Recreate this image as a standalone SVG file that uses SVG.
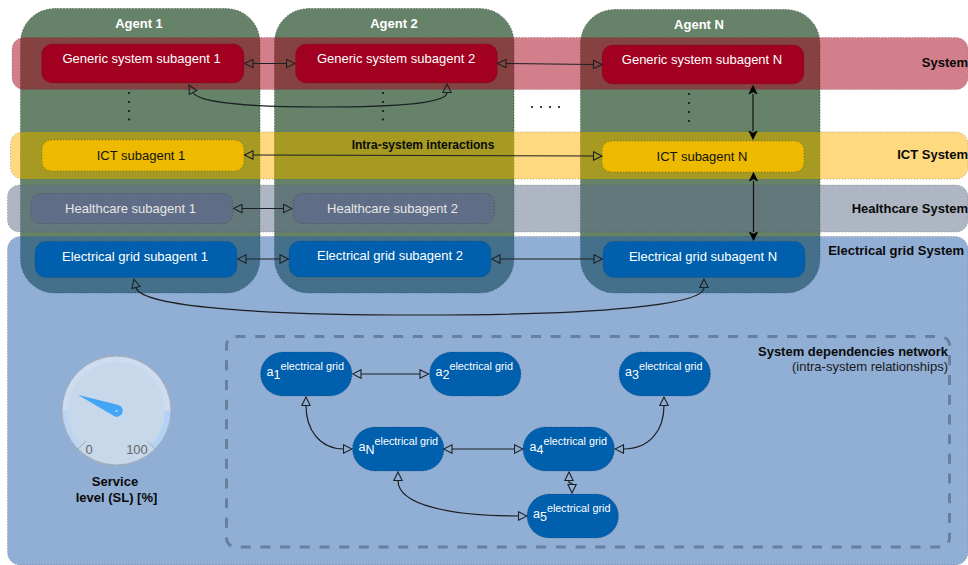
<svg xmlns="http://www.w3.org/2000/svg" width="968" height="565" viewBox="0 0 968 565">
<style>
text{font-family:"Liberation Sans",Arial,sans-serif}
.agent{fill:#66836a;stroke:#2b3b2e;stroke-width:.8;stroke-dasharray:1 2}
.band{stroke:#444;stroke-opacity:.55;stroke-width:.8;stroke-dasharray:1 2;fill-opacity:.5}
.sub{stroke:#222;stroke-opacity:.5;stroke-width:.8;stroke-dasharray:1 2}
.gen{fill:#a20020}.ict{fill:#edba00}.hc{fill:#5f6e86}.el{fill:#0060ad}
.st{font-size:13px;fill:#fff;text-anchor:middle}
.hct{font-size:13px;fill:#e6e6e6;text-anchor:middle}
.ag{font-size:13px;font-weight:bold;fill:#fff;text-anchor:middle}
.sy{font-size:13px;font-weight:bold;fill:#0a0a0a;text-anchor:end}
.an{fill:#fff;font-size:12.500px}.an .s{font-size:12.500px}.an .e{font-size:10.800px}
.c{fill:none;stroke:#1c2024;stroke-width:1.200;marker-start:url(#o);marker-end:url(#o)}
.k{fill:none;stroke:#111;stroke-width:1.200;marker-start:url(#f);marker-end:url(#f)}
.dot{fill:#111}
</style>
<defs>
<marker id="o" viewBox="-1 -5 10.500 10" refX="0" refY="0" markerWidth="10.500" markerHeight="10" markerUnits="userSpaceOnUse" orient="auto-start-reverse"><path d="M0 -4.200L8.500 0L0 4.200Z" fill="none" stroke="#1c2024" stroke-width="1.100"/></marker>
<marker id="f" viewBox="-1 -5 10.500 10" refX="0" refY="0" markerWidth="10.500" markerHeight="10" markerUnits="userSpaceOnUse" orient="auto-start-reverse"><path d="M0 -4.200L8.500 0L0 4.200L2 0Z" fill="#000" stroke="#000" stroke-width=".6"/></marker>
</defs>
<g id="agents">
<rect id="agent-1" class="agent" x="20.500" y="8.500" width="239.500" height="284.500" rx="34"/>
<rect id="agent-2" class="agent" x="274.500" y="8.500" width="239.500" height="284.500" rx="34"/>
<rect id="agent-n" class="agent" x="580.500" y="9.500" width="239.500" height="283.500" rx="34"/>
</g>
<g id="bands">
<rect id="band-system" class="band" x="12" y="37.500" width="956" height="52" rx="12" fill="#a50018"/>
<rect id="band-ict" class="band" x="10.500" y="132" width="957.500" height="47" rx="12" fill="#ffb300"/>
<rect x="20.500" y="132" width="239.500" height="47" fill="#a69a22"/>
<rect x="274.500" y="132" width="239.500" height="47" fill="#a69a22"/>
<rect x="580.500" y="132" width="239.500" height="47" fill="#a69a22"/>
<rect id="band-health" class="band" x="7.500" y="185" width="960.500" height="47" rx="12" fill="#5d6d89"/>
<rect id="band-electrical" class="band" x="7.500" y="236.500" width="960.500" height="328.500" rx="13" fill="#235dab"/>
</g>
<g id="agent-labels">
<text class="ag" x="139" y="28">Agent 1</text>
<text class="ag" x="394" y="28">Agent 2</text>
<text class="ag" x="699" y="29">Agent N</text>
</g>
<g id="band-labels">
<text class="sy" x="968" y="67">System</text>
<text class="sy" x="968" y="159">ICT System</text>
<text class="sy" x="968" y="213">Healthcare System</text>
<text class="sy" x="964" y="255">Electrical grid System</text>
</g>
<g id="generic-1"><rect class="sub gen" x="41.500" y="44" width="202.500" height="39" rx="11"/><text class="st" x="141.500" y="63">Generic system subagent 1</text></g>
<g id="generic-2"><rect class="sub gen" x="295.500" y="44" width="202" height="39" rx="11"/><text class="st" x="396" y="63">Generic system subagent 2</text></g>
<g id="generic-n"><rect class="sub gen" x="602" y="45" width="202" height="39" rx="11"/><text class="st" x="702" y="64">Generic system subagent N</text></g>
<g id="ict-1"><rect class="sub ict" x="42" y="140" width="202" height="31" rx="9"/><text class="st" style="fill:#111" x="141" y="159.500">ICT subagent 1</text></g>
<g id="ict-n"><rect class="sub ict" x="602" y="141" width="202" height="31" rx="9"/><text class="st" style="fill:#111" x="702" y="160.500">ICT subagent N</text></g>
<g id="health-1"><rect class="sub hc" x="31" y="193.500" width="201.500" height="30" rx="9"/><text class="hct" x="130.500" y="213">Healthcare subagent 1</text></g>
<g id="health-2"><rect class="sub hc" x="293" y="193.500" width="201.500" height="30" rx="9"/><text class="hct" x="392.500" y="213">Healthcare subagent 2</text></g>
<g id="grid-1"><rect class="sub el" x="35" y="241.500" width="202" height="36" rx="11"/><text class="st" x="135" y="261">Electrical grid subagent 1</text></g>
<g id="grid-2"><rect class="sub el" x="289" y="241" width="202" height="36" rx="11"/><text class="st" x="390" y="260">Electrical grid subagent 2</text></g>
<g id="grid-n"><rect class="sub el" x="603" y="241.500" width="202" height="36" rx="11"/><text class="st" x="703" y="261">Electrical grid subagent N</text></g>
<g id="dots">
<circle class="dot" cx="129" cy="93" r="1.100"/><circle class="dot" cx="129" cy="102" r="1.100"/><circle class="dot" cx="129" cy="111" r="1.100"/><circle class="dot" cx="129" cy="119.500" r="1.100"/>
<circle class="dot" cx="383" cy="93" r="1.100"/><circle class="dot" cx="383" cy="102" r="1.100"/><circle class="dot" cx="383" cy="111" r="1.100"/><circle class="dot" cx="383" cy="119.500" r="1.100"/>
<circle class="dot" cx="689" cy="94" r="1.100"/><circle class="dot" cx="689" cy="103" r="1.100"/><circle class="dot" cx="689" cy="112" r="1.100"/><circle class="dot" cx="689" cy="121" r="1.100"/>
<circle class="dot" cx="532" cy="107" r="1.100"/><circle class="dot" cx="541" cy="107" r="1.100"/><circle class="dot" cx="550" cy="107" r="1.100"/><circle class="dot" cx="559" cy="107" r="1.100"/>
</g>
<text x="423" y="149" font-size="12" font-weight="bold" fill="#0a0a0a" text-anchor="middle">Intra-system interactions</text>
<g id="dependency-network">
<rect x="226.500" y="336.500" width="723" height="210.500" rx="9" fill="none" stroke="#66809f" stroke-width="3" stroke-dasharray="10 9.700"/>
<text x="948" y="356" font-size="13" font-weight="bold" fill="#0a0a0a" text-anchor="end">System dependencies network</text>
<text x="948" y="371" font-size="13" fill="#1a1a1a" text-anchor="end">(intra-system relationships)</text>
</g>
<g id="a1"><rect class="sub el" x="260.500" y="352" width="91.500" height="44" rx="22"/><text class="an" x="266.500" y="376">a<tspan class="s" dy="3">1</tspan><tspan class="e" dy="-9">electrical grid</tspan></text></g>
<g id="a2"><rect class="sub el" x="429.500" y="352" width="91.500" height="44" rx="22"/><text class="an" x="435.500" y="376">a<tspan class="s" dy="3">2</tspan><tspan class="e" dy="-9">electrical grid</tspan></text></g>
<g id="a3"><rect class="sub el" x="619" y="352" width="91.500" height="44" rx="22"/><text class="an" x="625" y="376">a<tspan class="s" dy="3">3</tspan><tspan class="e" dy="-9">electrical grid</tspan></text></g>
<g id="aN"><rect class="sub el" x="352.500" y="427" width="91.500" height="44" rx="22"/><text class="an" x="358.500" y="451">a<tspan class="s" dy="3">N</tspan><tspan class="e" dy="-9">electrical grid</tspan></text></g>
<g id="a4"><rect class="sub el" x="523" y="427" width="91.500" height="44" rx="22"/><text class="an" x="529.500" y="451">a<tspan class="s" dy="3">4</tspan><tspan class="e" dy="-9">electrical grid</tspan></text></g>
<g id="a5"><rect class="sub el" x="527" y="494" width="91.500" height="44" rx="22"/><text class="an" x="533" y="518">a<tspan class="s" dy="3">5</tspan><tspan class="e" dy="-9">electrical grid</tspan></text></g>
<g id="connectors">
<path class="c" d="M253 63.500H286.500"/>
<path class="c" d="M506 63.500L593.500 64.500"/>
<path class="c" d="M193 92.500C197 100 230 107 320 107C410 107 447 102 447 92.500"/>
<path class="c" d="M253 155L428 155.500L593.500 156"/>
<path class="c" d="M242 208.500H283.500"/>
<path class="c" d="M246 259H280"/>
<path class="c" d="M500 259H594"/>
<path class="c" d="M136 287.500C140 304 230 315 420 315C600 315 704 305 704 287.500"/>
<path class="k" d="M753 94V131"/>
<path class="k" d="M753.500 181V232"/>
<path class="c" d="M361 374H420"/>
<path class="c" d="M306 405.500C306 430 320 449 343.500 449"/>
<path class="c" d="M452 449H514.500"/>
<path class="c" d="M664 405.500C664 430 650 449 623.500 449"/>
<path class="c" d="M569 480.500V482.500L572 483.500V484.500"/>
<path class="c" d="M398 480.500C398 505 450 516 518.500 516"/>
</g>
<g id="gauge">
<circle cx="116.500" cy="410.500" r="54.500" fill="#cddcf0"/>
<path d="M62 410.500A54.500 54.500 0 0 0 78 449L116.500 410.500Z" fill="#bcd5f3"/>
<path d="M171 410.500A54.500 54.500 0 0 1 155 449L116.500 410.500Z" fill="#b3d2f8"/>
<circle cx="116.500" cy="410.500" r="48.500" fill="#c6d8e9"/>
<path d="M78 449A54.500 54.500 0 0 0 155 449L147.300 441.300H85.700Z" fill="#c6d8e9"/>
<path d="M78 449L85.700 441.300M155 449L147.300 441.300" stroke="#a9abb0" stroke-width="1" fill="none"/>
<circle cx="116.500" cy="410.500" r="54.500" fill="none" stroke="#a9abb0" stroke-width="1"/>
<text x="89" y="454" font-size="13" fill="#666" text-anchor="middle">0</text>
<text x="137" y="454" font-size="13" fill="#666" text-anchor="middle">100</text>
<path d="M78.300 395L118.500 405A6 6 0 1 1 113.500 415.800Z" fill="#42a5f5"/>
<circle cx="116.500" cy="411" r="1" fill="#cfe6fb"/>
<text x="115" y="486" font-size="13" font-weight="bold" fill="#0a0a0a" text-anchor="middle">Service</text>
<text x="116.500" y="502" font-size="13" font-weight="bold" fill="#0a0a0a" text-anchor="middle">level (SL) [%]</text>
</g>
</svg>
